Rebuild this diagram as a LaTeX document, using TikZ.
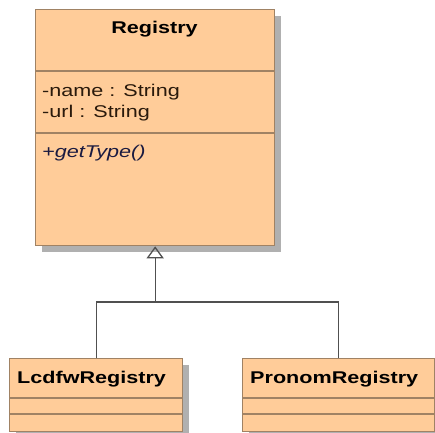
\documentclass[tikz,border=0pt]{standalone}
\usepackage{fontspec}
\setmainfont{Liberation Sans}[FakeStretch=1.27]
\usetikzlibrary{arrows.meta}
\definecolor{classfill}{HTML}{FFCC99}
\definecolor{classline}{HTML}{A08264}
\definecolor{shadowgray}{HTML}{B0B0B0}
\definecolor{connline}{HTML}{505050}
\definecolor{opcolor}{HTML}{1A1A40}
\definecolor{attrcolor}{HTML}{2A1A0C}
\tikzset{
  classbox/.style={draw=classline, fill=classfill, line width=1.3pt, inner sep=0pt, anchor=north west},
  shadowbox/.style={fill=shadowgray, draw=none},
  divider/.style={draw=classline, line width=1.3pt},
  conn/.style={draw=connline, line width=1.3pt},
  txt/.style={inner sep=0pt, anchor=base west, font=\fontsize{17}{20}\selectfont},
  ttl/.style={inner sep=0pt, anchor=base, font=\fontsize{17}{20}\selectfont\bfseries},
}
\begin{document}
\begin{tikzpicture}[x=1pt, y=-1pt]
\useasboundingbox (0,0) rectangle (435,432);
% drop shadows
\fill[shadowbox] (42,16) rectangle (281,252);
\fill[shadowbox] (16,365) rectangle (189,440);
\fill[shadowbox] (249,365) rectangle (441,440);
% Registry class
\node[classbox, minimum width=239pt, minimum height=236pt] (reg) at (35,9) {};
\draw[divider] (35,71) -- (274,71);
\draw[divider] (35,133) -- (274,133);
\node[ttl] (regname) at (154.5,33) {Registry};
\node[txt, text=attrcolor] (a1) at (42,96.5) {-name : String};
\node[txt, text=attrcolor] (a2) at (42,117.5) {-url : String};
\node[txt, text=opcolor, font=\fontsize{17}{20}\selectfont\itshape] (op1) at (42,157) {+getType()};
% LcdfwRegistry class
\node[classbox, minimum width=173pt, minimum height=72.5pt] (lc) at (9,358) {};
\draw[divider] (9,398) -- (182,398);
\draw[divider] (9,414) -- (182,414);
\node[txt, font=\fontsize{17}{20}\selectfont\bfseries] (lcname) at (17,383) {LcdfwRegistry};
% PronomRegistry class
\node[classbox, minimum width=191.5pt, minimum height=72.5pt] (pr) at (242,358) {};
\draw[divider] (242,398) -- (433.5,398);
\draw[divider] (242,414) -- (433.5,414);
\node[txt, font=\fontsize{17}{20}\selectfont\bfseries] (prname) at (250,383) {PronomRegistry};
% generalization
\coordinate (j) at (reg.south |- 0,302);
\draw[conn] (lc.north) |- (j) -| (pr.north);
\draw[conn, -{Triangle[open, length=12pt, width=17pt]}] (j) -- (reg.south);
\end{tikzpicture}
\end{document}
